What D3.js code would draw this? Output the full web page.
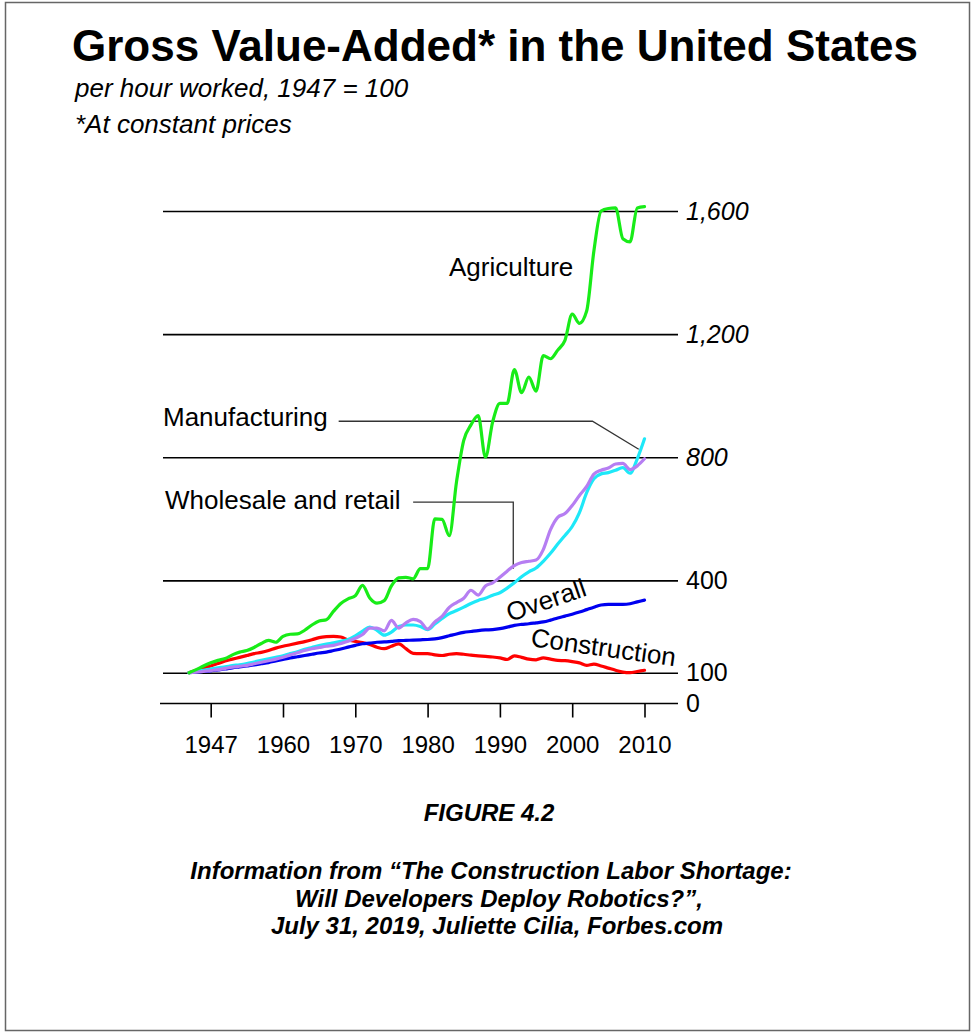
<!DOCTYPE html>
<html>
<head>
<meta charset="utf-8">
<script src="https://cdn.jsdelivr.net/npm/d3@7"></script>
<style>
  html, body { margin: 0; padding: 0; background: #fff; }
  svg { display: block; }
  text { font-family: "Liberation Sans", Arial, Helvetica, sans-serif; fill: #000; }
</style>
</head>
<body>
<svg id="chart" width="976" height="1036"></svg>
<script>
// ---------------- DATA ----------------
const years = [1947,1948,1949,1950,1951,1952,1953,1954,1955,1956,1957,1958,1959,1960,1961,1962,1963,1964,1965,1966,1967,1968,1969,1970,1971,1972,1973,1974,1975,1976,1977,1978,1979,1980,1981,1982,1983,1984,1985,1986,1987,1988,1989,1990,1991,1992,1993,1994,1995,1996,1997,1998,1999,2000,2001,2002,2003,2004,2005,2006,2007,2008,2009,2010];

const agriculture = [100,110,122,132,140,146,158,167,172,182,195,205,199,218,225,226,238,255,268,272,300,325,340,350,384,343,326,334,382,408,410,405,438,438,600,598,545,720,855,905,935,800,915,975,975,1085,1010,1060,1015,1130,1120,1148,1180,1265,1235,1275,1470,1600,1608,1610,1510,1500,1610,1614];

const manufacturing = [100,104,108,112,116,119,123,126,130,135,140,145,150,155,162,168,176,182,188,193,197,202,208,220,235,248,238,222,232,250,255,255,250,240,258,276,292,302,313,325,335,342,352,360,375,392,412,428,440,462,488,518,546,575,620,685,730,746,750,758,766,748,795,860];

const wholesaleRetail = [100,102,104,107,110,114,118,121,124,129,134,139,144,150,158,165,172,178,182,186,189,195,202,212,224,245,245,236,270,245,262,273,266,242,265,283,312,328,342,368,352,382,392,410,430,448,458,462,466,500,565,605,617,643,676,705,745,758,765,778,780,760,772,795];

const overall = [100,102,104,106,109,112,116,119,122,125,129,133,138,143,148,152,156,160,164,167,172,177,183,189,194,196,199,200,202,204,205,206,207,208,210,214,220,226,231,234,237,239,240,243,248,254,257,259,262,265,271,278,284,290,297,305,313,320,322,322,322,324,330,336];

const construction = [100,108,116,122,130,138,144,150,156,162,166,172,180,186,191,196,201,207,214,217,218,216,206,202,198,192,183,178,186,194,178,163,162,162,158,156,160,162,160,157,155,153,151,148,143,155,150,144,142,148,144,140,139,136,132,124,128,122,115,108,102,100,104,108];

const seriesNames = ["Construction", "Overall", "Manufacturing", "Wholesale and retail", "Agriculture"];
const seriesColors = ["#ff0000", "#0000f0", "#1ee8f8", "#b67ef2", "#18ec18"];

const gridValues = [100, 400, 800, 1200, 1600];
const gridLabels = ["100", "400", "800", "1,200", "1,600"];
const xTickValues = [1950, 1960, 1970, 1980, 1990, 2000, 2010];
const xTickLabels = ["1947", "1960", "1970", "1980", "1990", "2000", "2010"];

// ---------------- SETUP ----------------
const svg = d3.select("#chart");
const x = d3.scaleLinear().domain([1947, 2010]).range([189, 644.5]);
const y = d3.scaleLinear().domain([0, 1600]).range([703.5, 211]);

// frame
svg.append("rect").attr("x", 5.5).attr("y", 2.5).attr("width", 964).attr("height", 1028)
  .attr("fill", "none").attr("stroke", "#666").attr("stroke-width", 1.5);

// titles
svg.append("text").attr("x", 495).attr("y", 61).attr("text-anchor", "middle")
  .attr("font-size", 44).attr("font-weight", "bold").text("Gross Value-Added* in the United States");
svg.append("text").attr("x", 75).attr("y", 97).attr("font-size", 26).attr("font-style", "italic")
  .text("per hour worked, 1947 = 100");
svg.append("text").attr("x", 75).attr("y", 133).attr("font-size", 26).attr("font-style", "italic")
  .text("*At constant prices");

// gridlines with right labels
const gridAxis = d3.axisRight(y).tickValues(gridValues).tickSize(515).tickPadding(8)
  .tickFormat((d, i) => gridLabels[i]);
const gG = svg.append("g").attr("transform", "translate(163,0)").call(gridAxis);
gG.select(".domain").remove();
gG.selectAll(".tick line").attr("stroke", "#000").attr("stroke-width", 1.6);
gG.selectAll(".tick text").attr("font-size", 25).attr("fill", "#000")
  .attr("font-style", d => d >= 800 ? "italic" : "normal")
  .style("font-family", '"Liberation Sans", Arial, sans-serif');

// bottom axis (value 0)
const xAxis = d3.axisBottom(x).tickValues(xTickValues).tickSize(14).tickSizeOuter(0).tickPadding(18)
  .tickFormat((d, i) => xTickLabels[i]);
const xG = svg.append("g").attr("transform", `translate(0,${y(0)})`).call(xAxis);
xG.select(".domain").remove();
xG.selectAll(".tick line").attr("stroke", "#000").attr("stroke-width", 1.6);
xG.selectAll(".tick text").attr("font-size", 24).attr("fill", "#000")
  .style("font-family", '"Liberation Sans", Arial, sans-serif');
svg.append("line").attr("x1", 160).attr("x2", 678).attr("y1", y(0)).attr("y2", y(0))
  .attr("stroke", "#000").attr("stroke-width", 1.6);
svg.append("text").attr("x", 686).attr("y", y(0)).attr("dy", "0.35em").attr("font-size", 25).text("0");

// lines
const allSeries = [construction, overall, manufacturing, wholesaleRetail, agriculture];
const line = d3.line().x((d, i) => x(years[i])).y(d => y(d)).curve(d3.curveMonotoneX);

// leader lines (in data units)
const manuLeader = [[1967.7, 917], [2002.8, 917], [2009.2, 826]];
const wrLeader = [[1978.0, 654], [1991.85, 654], [1991.85, 438]];
const lead = d3.line().x(d => x(d[0])).y(d => y(d[1]));
svg.append("path").attr("d", lead(manuLeader)).attr("fill", "none").attr("stroke", "#333").attr("stroke-width", 1.3);
svg.append("path").attr("d", lead(wrLeader)).attr("fill", "none").attr("stroke", "#333").attr("stroke-width", 1.3);

svg.append("g").selectAll("path").data(allSeries).join("path")
  .attr("d", d => line(d))
  .attr("fill", "none")
  .attr("stroke", (d, i) => seriesColors[i])
  .attr("stroke-width", 3.2)
  .attr("stroke-linejoin", "round")
  .attr("stroke-linecap", "round");

// series labels
svg.append("text").attr("x", 449).attr("y", 276).attr("font-size", 26).text("Agriculture");
svg.append("text").attr("x", 163).attr("y", 426).attr("font-size", 26).text("Manufacturing");
svg.append("text").attr("x", 165).attr("y", 509).attr("font-size", 26).text("Wholesale and retail");
svg.append("text").attr("transform", "translate(510,622) rotate(-19)").attr("font-size", 26).text("Overall");
svg.append("text").attr("transform", "translate(530,646) rotate(8)").attr("font-size", 26).text("Construction");

// footer
svg.append("text").attr("x", 489).attr("y", 821).attr("text-anchor", "middle")
  .attr("font-size", 24).attr("font-weight", "bold").attr("font-style", "italic").text("FIGURE 4.2");
const credits = ["Information from \u201CThe Construction Labor Shortage:", "Will Developers Deploy Robotics?\u201D,", "July 31, 2019, Juliette Cilia, Forbes.com"];
const creditX = [491, 499, 497];
svg.append("g").selectAll("text").data(credits).join("text")
  .attr("x", (d, i) => creditX[i]).attr("y", (d, i) => 879 + i * 27.5).attr("text-anchor", "middle")
  .attr("font-size", 24).attr("font-weight", "bold").attr("font-style", "italic").text(d => d);
</script>
</body>
</html>
